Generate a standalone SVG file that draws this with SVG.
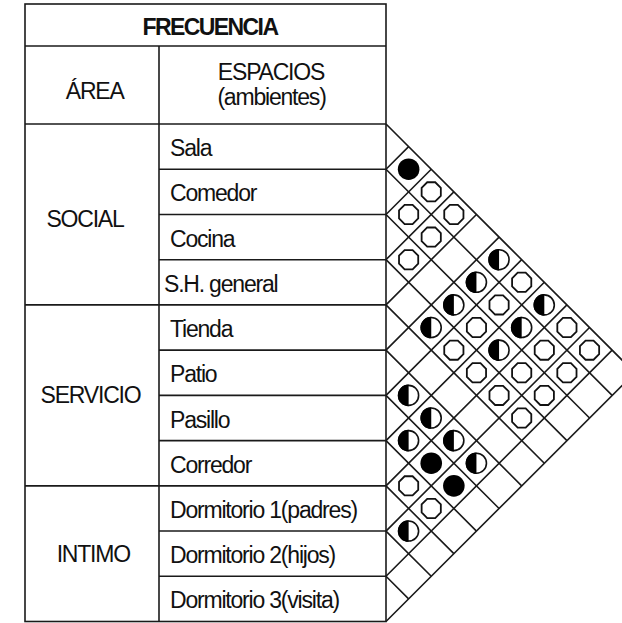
<svg xmlns="http://www.w3.org/2000/svg" xmlns:xlink="http://www.w3.org/1999/xlink" width="622" height="623" viewBox="0 0 622 623">
<style>
.ln{stroke:#1a1a1a;stroke-width:1.6;fill:none}
.t{font-family:"Liberation Sans",Arial,sans-serif;font-size:23px;letter-spacing:-1.2px;fill:#111}
.m{text-anchor:middle}
.b{font-weight:bold;letter-spacing:-1.6px}
</style>
<defs>
<g id="full"><circle r="10.8" fill="#000"/></g>
<g id="half"><circle r="10" fill="#fff" stroke="#111" stroke-width="1.6"/><path d="M0,-10.8 A10.8,10.8 0 0 0 0,10.8 Z" fill="#000"/></g>
<g id="oct"><polygon points="9.6,4 4,9.6 -4,9.6 -9.6,4 -9.6,-4 -4,-9.6 4,-9.6 9.6,-4" fill="#fff" stroke="#111" stroke-width="1.8"/></g>
</defs>
<rect width="622" height="623" fill="#fff"/>
<g id="table">
<rect class="ln" x="25" y="4" width="361" height="617.5"/>
<line class="ln" x1="25" y1="46" x2="386" y2="46"/>
<line class="ln" x1="25" y1="124" x2="386" y2="124"/>
<line class="ln" x1="159" y1="46" x2="159" y2="621.5"/>
<line class="ln" x1="159" y1="169.23" x2="386" y2="169.23"/>
<line class="ln" x1="159" y1="214.46" x2="386" y2="214.46"/>
<line class="ln" x1="159" y1="259.69" x2="386" y2="259.69"/>
<line class="ln" x1="25" y1="304.92" x2="386" y2="304.92"/>
<line class="ln" x1="159" y1="350.15" x2="386" y2="350.15"/>
<line class="ln" x1="159" y1="395.38" x2="386" y2="395.38"/>
<line class="ln" x1="159" y1="440.61" x2="386" y2="440.61"/>
<line class="ln" x1="25" y1="485.84" x2="386" y2="485.84"/>
<line class="ln" x1="159" y1="531.07" x2="386" y2="531.07"/>
<line class="ln" x1="159" y1="576.3" x2="386" y2="576.3"/>
</g>
<g id="header">
<text class="t m b" x="210" y="35">FRECUENCIA</text>
<text class="t m" x="94.7" y="99.3">ÁREA</text>
<text class="t m" x="271" y="80">ESPACIOS</text>
<text class="t m" x="271.5" y="105">(ambientes)</text>
</g>
<g id="area-social"><text class="t m" x="85" y="227.3">SOCIAL</text></g>
<g id="area-servicio"><text class="t m" x="90.5" y="403.3">SERVICIO</text></g>
<g id="area-intimo"><text class="t m" x="93.3" y="561.7">INTIMO</text></g>
<g id="row-sala"><text class="t" x="170" y="156.1">Sala</text></g>
<g id="row-comedor"><text class="t" x="170" y="201.3">Comedor</text></g>
<g id="row-cocina"><text class="t" x="170" y="246.6">Cocina</text></g>
<g id="row-sh"><text class="t" x="164" y="291.8">S.H. general</text></g>
<g id="row-tienda"><text class="t" x="170" y="337">Tienda</text></g>
<g id="row-patio"><text class="t" x="170" y="382.3">Patio</text></g>
<g id="row-pasillo"><text class="t" x="170" y="427.5">Pasillo</text></g>
<g id="row-corredor"><text class="t" x="170" y="472.7">Corredor</text></g>
<g id="row-dorm1"><text class="t" x="170" y="518">Dormitorio 1(padres)</text></g>
<g id="row-dorm2"><text class="t" x="170" y="563.2">Dormitorio 2(hijos)</text></g>
<g id="row-dorm3"><text class="t" x="170" y="608.4">Dormitorio 3(visita)</text></g>
<g id="connectors" class="ln">
<path d="M386,124 l248.77,248.77 M386,169.23 l226.15,226.15 M386,214.46 l203.54,203.54 M386,259.69 l180.92,180.92 M386,304.92 l158.31,158.31 M386,350.15 l135.69,135.69 M386,395.38 l113.08,113.08 M386,440.61 l90.46,90.46 M386,485.84 l67.85,67.85 M386,531.07 l45.23,45.23 M386,576.3 l22.62,22.62"/>
<path d="M386,169.23 l22.62,-22.62 M386,214.46 l45.23,-45.23 M386,259.69 l67.85,-67.85 M386,304.92 l90.46,-90.46 M386,350.15 l113.08,-113.08 M386,395.38 l135.69,-135.69 M386,440.61 l158.31,-158.31 M386,485.84 l180.92,-180.92 M386,531.07 l203.54,-203.54 M386,576.3 l226.15,-226.15 M386,621.53 l248.77,-248.77"/>
</g>
<g id="marks">
<use xlink:href="#full" x="408.62" y="169.23"/>
<use xlink:href="#full" x="431.23" y="463.23"/>
<use xlink:href="#full" x="453.85" y="485.84"/>
<use xlink:href="#half" x="499.08" y="259.69"/>
<use xlink:href="#half" x="476.46" y="282.31"/>
<use xlink:href="#half" x="453.85" y="304.92"/>
<use xlink:href="#half" x="544.31" y="304.92"/>
<use xlink:href="#half" x="431.23" y="327.54"/>
<use xlink:href="#half" x="521.69" y="327.54"/>
<use xlink:href="#half" x="499.08" y="350.15"/>
<use xlink:href="#half" x="408.62" y="395.38"/>
<use xlink:href="#half" x="431.23" y="418.0"/>
<use xlink:href="#half" x="408.62" y="440.61"/>
<use xlink:href="#half" x="453.85" y="440.61"/>
<use xlink:href="#half" x="476.46" y="463.23"/>
<use xlink:href="#half" x="408.62" y="531.07"/>
<use xlink:href="#oct" x="431.23" y="191.85"/>
<use xlink:href="#oct" x="408.62" y="214.46"/>
<use xlink:href="#oct" x="453.85" y="214.46"/>
<use xlink:href="#oct" x="431.23" y="237.08"/>
<use xlink:href="#oct" x="408.62" y="259.69"/>
<use xlink:href="#oct" x="521.69" y="282.31"/>
<use xlink:href="#oct" x="499.08" y="304.92"/>
<use xlink:href="#oct" x="476.46" y="327.54"/>
<use xlink:href="#oct" x="566.92" y="327.54"/>
<use xlink:href="#oct" x="453.85" y="350.15"/>
<use xlink:href="#oct" x="544.31" y="350.15"/>
<use xlink:href="#oct" x="589.54" y="350.15"/>
<use xlink:href="#oct" x="476.46" y="372.77"/>
<use xlink:href="#oct" x="521.69" y="372.77"/>
<use xlink:href="#oct" x="566.92" y="372.77"/>
<use xlink:href="#oct" x="499.08" y="395.38"/>
<use xlink:href="#oct" x="544.31" y="395.38"/>
<use xlink:href="#oct" x="521.69" y="418.0"/>
<use xlink:href="#oct" x="408.62" y="485.84"/>
<use xlink:href="#oct" x="431.23" y="508.46"/>
</g>
</svg>
